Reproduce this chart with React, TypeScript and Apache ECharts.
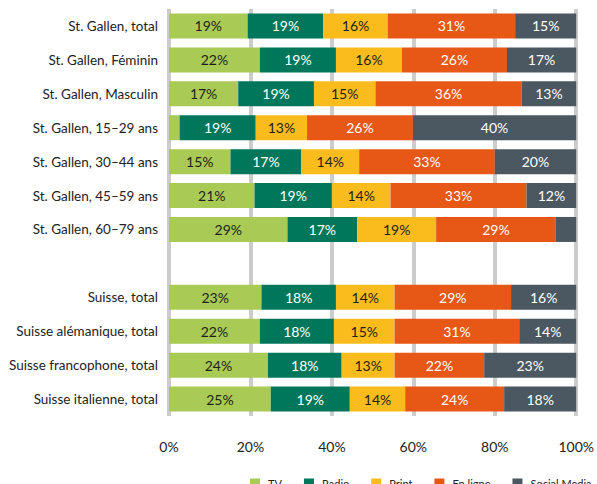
import React, { useEffect, useRef } from "react";
import * as echarts from "echarts";

const categories = [
  "St. Gallen, total",
  "St. Gallen, Féminin",
  "St. Gallen, Masculin",
  "St. Gallen, 15–29 ans",
  "St. Gallen, 30–44 ans",
  "St. Gallen, 45–59 ans",
  "St. Gallen, 60–79 ans",
  "",
  "Suisse, total",
  "Suisse alémanique, total",
  "Suisse francophone, total",
  "Suisse italienne, total",
];

const seriesNames = ["TV", "Radio", "Print", "En ligne", "Social Media"];

const tv = [19.3, 22.3, 17.0, 2.6, 15.1, 21.0, 29.1, null, 22.7, 22.3, 24.3, 25.0];
const radio = [18.6, 18.7, 18.6, 18.7, 17.4, 19.0, 17.1, null, 18.3, 18.2, 18.1, 19.4];
const print = [15.8, 16.2, 15.1, 12.6, 14.2, 14.4, 19.4, null, 14.4, 14.9, 13.0, 13.6];
const online = [31.3, 25.8, 35.9, 26.0, 33.3, 33.4, 29.4, null, 28.6, 30.6, 22.0, 24.3];
const social = [15.0, 17.0, 13.4, 40.1, 20.0, 12.2, 5.0, null, 16.0, 14.0, 22.6, 17.7];

const xTicks = [0, 20, 40, 60, 80, 100];

const colors = ["#A9CA55", "#00775A", "#F9BC1C", "#E75716", "#4B5761"];
const labelColors = ["#1E1E1E", "#FFFFFF", "#1E1E1E", "#FFFFFF", "#FFFFFF"];

const FONT = "Lato";

export default function App() {
  const ref = useRef<HTMLDivElement>(null);

  useEffect(() => {
    document.body.style.margin = "0";
    if (!ref.current) return;
    const chart = echarts.init(ref.current, null, { renderer: "svg" });
    const allData = [tv, radio, print, online, social];
    const series = seriesNames.map((name, i) => ({
      name,
      type: "bar",
      stack: "total",
      barWidth: 25,
      data: allData[i],
      itemStyle: { color: colors[i] },
      label: {
        show: true,
        position: "inside",
        color: labelColors[i],
        fontFamily: FONT,
        fontSize: 14,
        formatter: (p: any) =>
          p.value == null || p.value < 8 ? "" : Math.round(p.value) + "%",
      },
    }));

    chart.setOption({
      animation: false,
      textStyle: { fontFamily: FONT },
      grid: { left: 169, right: 18, top: 9, height: 407 },
      xAxis: {
        type: "value",
        min: 0,
        max: 100,
        interval: 20,
        axisLine: { show: false },
        axisTick: { show: false },
        axisLabel: {
          margin: 23,
          fontSize: 14,
          color: "#222",
          fontFamily: FONT,
          formatter: (v: number) => (xTicks.includes(v) ? v + "%" : ""),
        },
        splitLine: { show: true, lineStyle: { color: "#CCCCCC", width: 4 } },
      },
      yAxis: {
        type: "category",
        inverse: true,
        data: categories,
        axisLine: { show: false },
        axisTick: { show: false },
        axisLabel: {
          margin: 11,
          fontSize: 13.5,
          color: "#222",
          fontFamily: FONT,
        },
      },
      legend: {
        data: seriesNames,
        left: 245,
        top: 473,
        width: 400,
        itemWidth: 10,
        itemHeight: 10,
        itemGap: 22,
        icon: "rect",
        textStyle: {
          fontSize: 11,
          color: "#222",
          fontFamily: FONT,
          padding: [0, 0, 0, 3],
        },
      },
      series,
    });
    return () => chart.dispose();
  }, []);

  return <div ref={ref} style={{ width: 597, height: 484 }} />;
}
